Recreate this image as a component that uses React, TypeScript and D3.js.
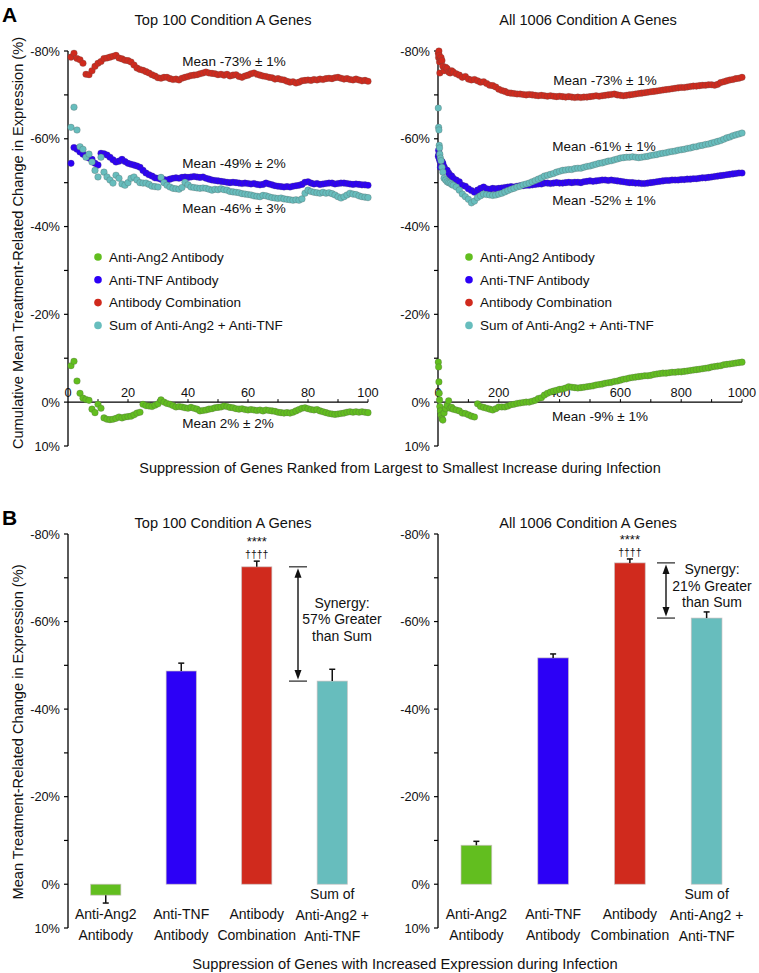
import React from "react";
import * as d3 from "d3";

// ---------- DATA ----------
const SERIES_NAMES = ["Anti-Ang2 Antibody", "Anti-TNF Antibody", "Antibody Combination", "Sum of Anti-Ang2 + Anti-TNF"];
const SERIES_COLORS = ["#62be1f", "#2c00f6", "#d02a1d", "#67bdbd"];

// Panel A left: cumulative means for top 100 genes (ranks 1..100)
const LEFT_GREEN = [
  -8.3, -9.3, -4.8, -2.0, -0.9, -0.6, -0.4, 1.6, 2.4, 0.5,
  1.4, 3.6, 3.9, 4.0, 3.9, 3.7, 3.4, 3.6, 3.4, 3.3,
  3.2, 2.9, 2.5, 2.3, 0.5, 0.8, 0.9, 1.0, 0.7, 0.4,
  -0.5, 0.0, 0.3, 0.5, 0.8, 1.1, 1.0, 1.1, 1.3, 1.4,
  1.2, 1.4, 1.6, 2.0, 1.9, 1.8, 1.6, 1.5, 1.3, 1.2,
  1.1, 0.9, 1.0, 1.2, 1.3, 1.5, 1.6, 1.5, 1.7, 1.8,
  1.7, 1.8, 1.9, 1.8, 2.0, 1.8, 1.9, 2.0, 2.1, 2.3,
  2.4, 2.5, 2.4, 2.5, 2.3, 2.0, 1.7, 1.4, 1.3, 1.5,
  1.7, 1.8, 1.7, 2.0, 2.2, 2.4, 2.6, 2.7, 2.8, 2.7,
  2.6, 2.5, 2.3, 2.2, 2.3, 2.2, 2.3, 2.2, 2.3, 2.4,
];
const LEFT_BLUE = [
  -54.4, -58.0, -57.6, -57.0, -56.5, -56.0, -55.6, -55.3, -54.4, -54.0,
  -56.7, -56.6, -56.3, -55.8, -55.2, -54.7, -54.9, -55.3, -54.8, -54.4,
  -54.2, -54.0, -53.8, -53.5, -52.8, -52.2, -51.8, -51.5, -51.1, -51.0,
  -50.8, -50.7, -50.6, -50.8, -51.0, -51.1, -51.0, -51.2, -51.3, -51.2,
  -51.3, -51.4, -51.3, -51.2, -51.3, -51.0, -50.8, -50.6, -50.5, -50.4,
  -50.3, -50.2, -50.1, -50.0, -50.1, -50.0, -49.9, -49.8, -49.9, -49.8,
  -49.7, -49.8, -49.6, -49.5, -49.6, -49.9, -49.7, -49.5, -49.3, -49.2,
  -49.1, -49.0, -49.1, -49.0, -49.2, -49.3, -49.4, -49.6, -50.1, -50.2,
  -49.9, -49.7, -49.8, -49.6, -49.7, -49.8, -49.9, -49.9, -49.7, -49.8,
  -49.9, -49.9, -49.8, -49.7, -49.6, -49.7, -49.6, -49.5, -49.5, -49.4,
];
const LEFT_RED = [
  -78.6, -79.5, -78.3, -78.0, -77.2, -74.7, -74.6, -75.5, -76.5, -77.2,
  -77.6, -78.3, -78.4, -78.6, -78.8, -79.0, -78.4, -78.2, -77.9, -77.8,
  -77.5, -76.8, -76.1, -75.8, -75.6, -75.3, -75.0, -74.6, -74.3, -73.9,
  -73.8, -74.0, -74.0, -73.7, -73.5, -73.6, -73.4, -73.8, -74.0, -74.2,
  -74.4, -74.5, -74.6, -74.8, -75.0, -75.2, -75.0, -74.9, -74.8, -74.6,
  -74.7, -74.5, -74.7, -74.3, -74.5, -74.6, -74.2, -74.0, -74.3, -74.5,
  -74.8, -75.0, -74.7, -74.5, -74.3, -74.2, -74.0, -73.9, -73.6, -73.7,
  -73.5, -73.4, -73.1, -72.9, -73.0, -72.7, -72.9, -73.2, -73.3, -73.4,
  -73.3, -73.5, -73.4, -73.6, -73.5, -73.7, -73.8, -73.7, -73.9, -74.0,
  -73.8, -73.6, -73.7, -73.5, -73.4, -73.6, -73.4, -73.2, -73.3, -73.1,
];
const LEFT_TEAL = [
  -62.6, -67.2, -62.0, -58.2, -57.6, -55.8, -56.5, -54.7, -52.8, -51.3,
  -55.8, -52.4, -51.3, -50.6, -49.9, -51.7, -51.0, -49.7, -49.4, -50.0,
  -51.0, -51.3, -50.6, -50.0, -49.9, -49.9, -49.6, -49.2, -49.1, -49.0,
  -51.2, -50.0, -49.4, -49.0, -48.7, -48.6, -48.5, -48.9, -50.1, -49.5,
  -49.0, -48.9, -48.8, -48.7, -48.8, -48.7, -48.5, -48.3, -48.5, -48.4,
  -48.6, -48.4, -48.3, -48.0, -47.9, -47.8, -47.7, -47.5, -47.4, -47.3,
  -47.2, -47.0, -46.9, -46.8, -47.1, -47.0, -46.8, -46.6, -46.5, -46.4,
  -46.5, -46.3, -46.2, -46.1, -46.0, -46.1, -46.0, -46.3, -47.6, -48.3,
  -48.0, -47.8, -47.7, -47.6, -47.8, -47.6, -47.7, -47.5, -47.2, -46.8,
  -46.5, -46.8, -47.2, -47.6, -47.4, -47.3, -47.0, -46.8, -46.7, -46.6,
];
const LEFT_RANKS = d3.range(1, 101);

// Panel A right: all 1006 genes, sampled ranks
const RIGHT_EARLY_RANKS = [1, 2, 3, 4, 5, 6, 8, 10, 13, 16, 20, 25, 30, 35, 40, 45, 50];
const RIGHT_LATE_RANKS = d3.range(60, 1001, 10);
const RIGHT_RANKS = RIGHT_EARLY_RANKS.concat(RIGHT_LATE_RANKS);

const RIGHT_GREEN = [
  -9.1, -8.0, -4.6, -2.0, -0.5, 1.0, 2.0, 3.0, 3.8, 4.1, 2.5, 1.5, 0.7, -0.3, 1.4, 1.2, 1.6,
  1.8, 2.0, 2.5, 2.6, 2.9, 3.2, 3.4, 0.4, 1.0, 1.2,
  1.4, 1.6, 1.8, 1.5, 1.1, 1.1, 1.1, 0.9, 0.6, 0.5,
  0.3, 0.2, 0.1, 0.0, 0.0, -0.2, -0.4, -0.8, -1.0, -1.6,
  -2.0, -2.3, -2.5, -2.7, -2.9, -3.0, -3.2, -3.5, -3.4, -3.3,
  -3.2, -3.3, -3.4, -3.5, -3.6, -3.7, -3.9, -4.0, -4.1, -4.3,
  -4.4, -4.5, -4.7, -4.8, -5.0, -5.2, -5.3, -5.5, -5.6, -5.7,
  -5.8, -5.9, -6.0, -6.0, -6.1, -6.3, -6.4, -6.5, -6.6, -6.6,
  -6.7, -6.8, -6.8, -6.9, -6.9, -7.0, -7.1, -7.2, -7.3, -7.4,
  -7.5, -7.6, -7.7, -7.8, -8.0, -8.1, -8.2, -8.3, -8.5, -8.6,
  -8.7, -8.8, -8.9, -9.0, -9.1,
];
const RIGHT_BLUE = [
  -56.0, -57.4, -56.5, -55.5, -56.3, -55.0, -53.5, -54.2, -54.8, -54.4, -53.6, -53.0, -52.8, -52.2, -51.7, -51.5, -51.0,
  -50.6, -50.2, -49.4, -49.2, -48.6, -48.2, -47.8, -48.3, -48.7, -49.0,
  -48.6, -48.5, -48.7, -48.6, -48.7, -48.8, -48.9, -49.0, -49.1, -49.0,
  -49.2, -49.3, -49.3, -49.4, -49.4, -49.5, -49.6, -49.7, -49.7, -49.9,
  -49.9, -49.8, -49.9, -50.0, -49.9, -49.9, -50.0, -50.1, -50.0, -50.1,
  -50.1, -50.0, -50.2, -50.3, -50.4, -50.3, -50.4, -50.5, -50.6, -50.6,
  -50.5, -50.6, -50.5, -50.4, -50.3, -50.2, -50.1, -50.0, -50.0, -49.9,
  -49.9, -49.8, -49.8, -49.9, -50.0, -50.1, -50.2, -50.3, -50.4, -50.5,
  -50.5, -50.6, -50.6, -50.6, -50.7, -50.7, -50.8, -50.8, -50.9, -50.9,
  -51.0, -51.1, -51.1, -51.2, -51.3, -51.4, -51.5, -51.6, -51.7, -51.8,
  -51.9, -52.0, -52.1, -52.2, -52.2,
];
const RIGHT_RED = [
  -79.5, -78.5, -80.0, -79.0, -77.5, -75.0, -78.0, -78.5, -77.8, -76.5, -75.5, -76.3, -76.0, -75.2, -75.0, -75.5, -75.2,
  -74.8, -74.5, -74.0, -74.2, -73.6, -73.4, -73.5, -73.2, -72.9, -73.0,
  -72.6, -72.2, -72.1, -71.8, -71.3, -71.0, -70.8, -70.5, -70.4, -70.3,
  -70.2, -70.2, -70.1, -70.0, -70.1, -70.0, -69.9, -69.8, -69.9, -69.8,
  -69.7, -69.8, -69.7, -69.6, -69.7, -69.6, -69.5, -69.6, -69.5, -69.4,
  -69.5, -69.4, -69.5, -69.5, -69.6, -69.7, -69.8, -69.7, -69.8, -69.9,
  -70.0, -70.1, -70.2, -70.0, -69.9, -69.8, -69.9, -70.0, -70.1, -70.2,
  -70.3, -70.4, -70.5, -70.6, -70.7, -70.8, -70.9, -71.0, -71.1, -71.2,
  -71.3, -71.4, -71.5, -71.6, -71.7, -71.7, -71.8, -71.9, -72.0, -72.0,
  -72.1, -72.2, -72.2, -72.3, -72.3, -72.2, -72.4, -72.8, -73.0, -73.2,
  -73.4, -73.5, -73.7, -73.8, -74.0,
];
const RIGHT_TEAL = [
  -67.0, -62.6, -62.0, -58.5, -57.9, -56.5, -55.6, -55.0, -53.5, -52.4, -51.0, -50.6, -50.2, -50.0, -49.9, -49.6, -49.4,
  -49.0, -48.3, -47.4, -46.8, -46.2, -45.4, -45.8, -46.6, -47.0, -47.4,
  -47.3, -47.2, -47.1, -47.2, -47.4, -47.6, -47.9, -48.2, -48.5, -48.7,
  -49.0, -49.2, -49.5, -49.7, -49.9, -50.2, -50.5, -50.8, -51.1, -51.5,
  -51.7, -51.9, -52.1, -52.4, -52.6, -52.8, -52.9, -53.0, -53.0, -53.2,
  -53.3, -53.3, -53.5, -53.7, -53.8, -54.0, -54.2, -54.4, -54.5, -54.7,
  -54.9, -55.0, -55.2, -55.4, -55.6, -55.7, -55.8, -55.8, -55.9, -55.8,
  -55.7, -55.8, -55.9, -56.0, -56.2, -56.3, -56.4, -56.6, -56.7, -56.8,
  -57.0, -57.1, -57.2, -57.4, -57.5, -57.6, -57.8, -57.9, -58.1, -58.2,
  -58.4, -58.5, -58.7, -58.8, -59.0, -59.2, -59.4, -59.6, -59.9, -60.2,
  -60.4, -60.7, -60.9, -61.1, -61.3,
];

const LEFT_MEAN_LABELS = ["Mean 2% ± 2%", "Mean -49% ± 2%", "Mean -73% ± 1%", "Mean -46% ± 3%"];
const RIGHT_MEAN_LABELS = ["Mean -9% ± 1%", "Mean -52% ± 1%", "Mean -73% ± 1%", "Mean -61% ± 1%"];

// Panel B bars
const BAR_CATS = [["Anti-Ang2", "Antibody"], ["Anti-TNF", "Antibody"], ["Antibody", "Combination"], ["Sum of", "Anti-Ang2 +", "Anti-TNF"]];
const B_LEFT_MEANS = [2.5, -48.7, -72.5, -46.4];
const B_LEFT_ERR = [1.8, 1.8, 1.3, 2.7];
const B_RIGHT_MEANS = [-8.9, -51.7, -73.4, -60.8];
const B_RIGHT_ERR = [0.9, 0.9, 0.9, 1.4];
const SYNERGY_LEFT = ["Synergy:", "57% Greater", "than Sum"];
const SYNERGY_RIGHT = ["Synergy:", "21% Greater", "than Sum"];

const Y_TICKS = [-80, -60, -40, -20, 0, 10];
const Y_MINOR = [-70, -50, -30, -10];
const FONT = "'Liberation Sans', Arial, Helvetica, sans-serif";

const fmtPct = (v: number) => `${v}%`;

function YAxis({ x, y }: { x: number; y: d3.ScaleLinear<number, number> }) {
  return (
    <g>
      <line x1={x} x2={x} y1={y(-80)} y2={y(10)} stroke="#000" strokeWidth={1.3} />
      {Y_TICKS.map((t) => (
        <g key={t}>
          <line x1={x - 4} x2={x} y1={y(t)} y2={y(t)} stroke="#000" strokeWidth={1.2} />
          <text x={x - 8} y={y(t)} dy="0.36em" textAnchor="end" fontSize={12.8} fill="#111">{fmtPct(t)}</text>
        </g>
      ))}
      {Y_MINOR.map((t) => (
        <line key={t} x1={x - 4} x2={x} y1={y(t)} y2={y(t)} stroke="#000" strokeWidth={1.2} />
      ))}
    </g>
  );
}

function DotPanel({
  x, y, ranks, series, ticks, minor, meanLabels, meanPos, legendX,
}: {
  x: d3.ScaleLinear<number, number>; y: d3.ScaleLinear<number, number>; ranks: number[]; series: number[][];
  ticks: number[]; minor: number[]; meanLabels: string[]; meanPos: [number, number][]; legendX: number;
}) {
  const x0 = x.range()[0];
  const y0 = y(0);
  return (
    <g>
      <YAxis x={x0} y={y} />
      <line x1={x0} x2={x.range()[1]} y1={y0} y2={y0} stroke="#000" strokeWidth={1.3} />
      {minor.map((t) => (
        <line key={"m" + t} x1={x(t)} x2={x(t)} y1={y0} y2={y0 - 3} stroke="#000" strokeWidth={1} />
      ))}
      {ticks.map((t) => (
        <text key={t} x={x(t)} y={y0 - 5} textAnchor="middle" fontSize={12.8} fill="#111">{t}</text>
      ))}
      {series.map((vals, si) => (
        <g key={si}>
          {vals.map((v, i) =>
            i < ranks.length ? (
              <circle key={i} cx={x(ranks[i])} cy={y(v)} r={3.3} fill={SERIES_COLORS[si]}
                stroke="rgba(80,80,80,0.35)" strokeWidth={0.7} />
            ) : null
          )}
        </g>
      ))}
      {meanLabels.map((m, i) => (
        <text key={i} x={meanPos[i][0]} y={meanPos[i][1]} textAnchor="middle" fontSize={13.5} fill="#111">{m}</text>
      ))}
      {SERIES_NAMES.map((n, i) => (
        <g key={n}>
          <circle cx={legendX} cy={257 + i * 22.8} r={3.8} fill={SERIES_COLORS[i]} />
          <text x={legendX + 11} y={257 + i * 22.8} dy="0.36em" fontSize={13.5} fill="#111">{n}</text>
        </g>
      ))}
    </g>
  );
}

function BarPanel({
  xRange, y, means, errs, synergy, synX, textX,
}: {
  xRange: [number, number]; y: d3.ScaleLinear<number, number>; means: number[]; errs: number[];
  synergy: string[]; synX: number; textX: number;
}) {
  const keys = BAR_CATS.map((c) => c.join(" "));
  const xb = d3.scaleBand<string>().domain(keys).range(xRange).paddingInner(0.6).paddingOuter(0.3);
  const y0 = y(0);
  const redTop = y(means[2]);
  const tealTop = y(means[3]);
  return (
    <g>
      <YAxis x={xRange[0]} y={y} />
      {means.map((v, i) => {
        const bx = xb(keys[i]) as number;
        const bw = xb.bandwidth();
        const top = Math.min(y(v), y0);
        const h = Math.abs(y(v) - y0);
        const sgn = v < 0 ? -1 : 1;
        const ye = y(v + sgn * errs[i]);
        const cx = bx + bw / 2;
        return (
          <g key={i}>
            <rect x={bx} y={top} width={bw} height={h} fill={SERIES_COLORS[i]} stroke="rgba(200,190,190,0.8)" strokeWidth={0.8} />
            <line x1={cx} x2={cx} y1={y(v)} y2={ye} stroke="#111" strokeWidth={1.5} />
            <line x1={cx - 3} x2={cx + 3} y1={ye} y2={ye} stroke="#111" strokeWidth={1.5} />
          </g>
        );
      })}
      {BAR_CATS.map((lines, i) => {
        const cx = (xb(keys[i]) as number) + xb.bandwidth() / 2;
        const startY = lines.length === 3 ? 899 : 919;
        return (
          <text key={i} textAnchor="middle" fontSize={14} fill="#111">
            {lines.map((l, j) => (
              <tspan key={j} x={cx} y={startY + j * 21}>{l}</tspan>
            ))}
          </text>
        );
      })}
      {(() => {
        const cx = (xb(keys[2]) as number) + xb.bandwidth() / 2;
        const ytop = y(means[2] - errs[2]);
        return (
          <g>
            <text x={cx} y={ytop - 15} textAnchor="middle" fontSize={13} fill="#111">****</text>
            <text x={cx} y={ytop - 3} textAnchor="middle" fontSize={10.5} fill="#111">††††</text>
          </g>
        );
      })()}
      <line x1={synX - 9} x2={synX + 9} y1={redTop} y2={redTop} stroke="#111" strokeWidth={1.1} />
      <line x1={synX - 9} x2={synX + 9} y1={tealTop} y2={tealTop} stroke="#111" strokeWidth={1.1} />
      <line x1={synX} x2={synX} y1={redTop + 8} y2={tealTop - 8} stroke="#111" strokeWidth={1.4} />
      <path d={`M${synX - 3.5},${redTop + 11} L${synX},${redTop + 1.5} L${synX + 3.5},${redTop + 11} Z`} fill="#111" />
      <path d={`M${synX - 3.5},${tealTop - 11} L${synX},${tealTop - 1.5} L${synX + 3.5},${tealTop - 11} Z`} fill="#111" />
      <text textAnchor="middle" fontSize={14} fill="#111">
        {synergy.map((s, j) => (
          <tspan key={j} x={textX} y={(redTop + tealTop) / 2 - 16 + j * 16.5}>{s}</tspan>
        ))}
      </text>
    </g>
  );
}

export default function App() {
  const yA = d3.scaleLinear().domain([-80, 10]).range([51, 446]);
  const yB = d3.scaleLinear().domain([-80, 10]).range([534, 928]);
  const xL = d3.scaleLinear().domain([0, 100]).range([68, 368]);
  const xR = d3.scaleLinear().domain([0, 1000]).range([438, 742]);

  return (
    <svg width={759} height={973} style={{ position: "absolute", left: 0, top: 0, background: "#fff", fontFamily: FONT }}
      fontFamily={FONT}>
      <rect x={0} y={0} width={759} height={973} fill="#fff" />
      <text x={2} y={22} fontSize={21} fontWeight="bold" fill="#000">A</text>
      <text x={2} y={525} fontSize={21} fontWeight="bold" fill="#000">B</text>

      <text x={223} y={25} textAnchor="middle" fontSize={14.6} fill="#111">Top 100 Condition A Genes</text>
      <text x={588} y={25} textAnchor="middle" fontSize={14.6} fill="#111">All 1006 Condition A Genes</text>
      <text x={223} y={528} textAnchor="middle" fontSize={14.6} fill="#111">Top 100 Condition A Genes</text>
      <text x={588} y={528} textAnchor="middle" fontSize={14.6} fill="#111">All 1006 Condition A Genes</text>

      <text transform="translate(23,243) rotate(-90)" textAnchor="middle" fontSize={14.6} fill="#111">
        Cumulative Mean Treatment-Related Change in Expression (%)
      </text>
      <text transform="translate(23,732) rotate(-90)" textAnchor="middle" fontSize={14.6} fill="#111">
        Mean Treatment-Related Change in Expression (%)
      </text>

      <DotPanel x={xL} y={yA} ranks={LEFT_RANKS} series={[LEFT_GREEN, LEFT_BLUE, LEFT_RED, LEFT_TEAL]}
        ticks={[0, 20, 40, 60, 80, 100]} minor={d3.range(10, 101, 10)} meanLabels={LEFT_MEAN_LABELS}
        meanPos={[[228, 428], [234, 168], [234, 66], [234, 213]]} legendX={98} />
      <DotPanel x={xR} y={yA} ranks={RIGHT_RANKS} series={[RIGHT_GREEN, RIGHT_BLUE, RIGHT_RED, RIGHT_TEAL]}
        ticks={[0, 200, 400, 600, 800, 1000]} minor={d3.range(100, 1001, 100)} meanLabels={RIGHT_MEAN_LABELS}
        meanPos={[[600, 421], [604, 205], [605, 85], [604, 151]]} legendX={469} />

      <text x={400} y={473} textAnchor="middle" fontSize={14.5} fill="#111">
        Suppression of Genes Ranked from Largest to Smallest Increase during Infection
      </text>

      <BarPanel xRange={[68, 370]} y={yB} means={B_LEFT_MEANS} errs={B_LEFT_ERR} synergy={SYNERGY_LEFT} synX={298} textX={342} />
      <BarPanel xRange={[438, 745]} y={yB} means={B_RIGHT_MEANS} errs={B_RIGHT_ERR} synergy={SYNERGY_RIGHT} synX={666} textX={712} />

      <text x={405} y={969} textAnchor="middle" fontSize={14.7} fill="#111">
        Suppression of Genes with Increased Expression during Infection
      </text>
    </svg>
  );
}
